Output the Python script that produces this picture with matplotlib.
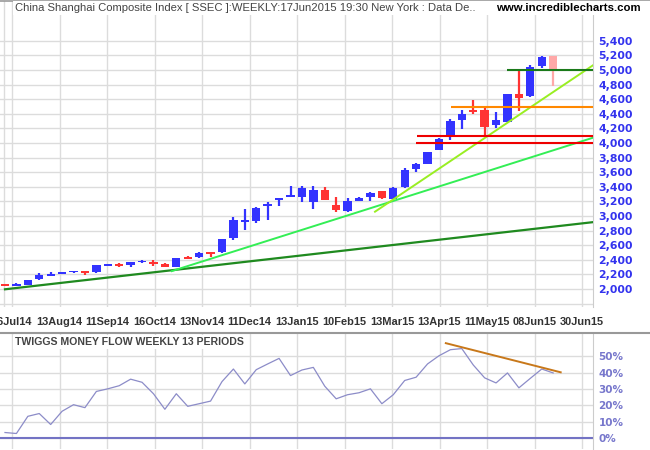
import matplotlib
matplotlib.use("Agg")
import matplotlib.pyplot as plt
from matplotlib.patches import Rectangle
from matplotlib.lines import Line2D

# ---------------- data ----------------
opens  = [2062, 2045, 2058, 2137, 2183, 2210, 2235, 2246, 2228, 2320,
          2335, 2335, 2370, 2370, 2342, 2306, 2434, 2443, 2502, 2502,
          2694, 2925, 2935, 3145, 3225, 3268, 3265, 3196, 3356, 3150,
          3068, 3210, 3265, 3342, 3228, 3402, 3644, 3712, 3904, 4087,
          4315, 4447, 4452, 4246, 4288, 4671, 4644, 5059, 5192]
highs  = [2070, 2088, 2125, 2219, 2233, 2237, 2251, 2251, 2329, 2342,
          2360, 2374, 2397, 2397, 2360, 2420, 2452, 2507, 2502, 2680,
          2991, 3096, 3128, 3196, 3245, 3411, 3411, 3411, 3393, 3256,
          3242, 3256, 3333, 3342, 3402, 3653, 3731, 3872, 4064, 4329,
          4452, 4589, 4497, 4429, 4671, 5009, 5068, 5192, 5192]
lows   = [2050, 2042, 2055, 2130, 2178, 2205, 2224, 2192, 2225, 2315,
          2297, 2297, 2360, 2320, 2302, 2297, 2418, 2429, 2443, 2490,
          2671, 2808, 2900, 2945, 3141, 3262, 3196, 3096, 3219, 3059,
          3059, 3205, 3205, 3233, 3228, 3388, 3607, 3712, 3904, 4041,
          4192, 4397, 4100, 4201, 4283, 4443, 4635, 5023, 4785]
closes = [2052, 2058, 2123, 2192, 2196, 2233, 2246, 2215, 2329, 2333,
          2322, 2365, 2384, 2338, 2306, 2420, 2422, 2489, 2495, 2680,
          2945, 2940, 3114, 3160, 3240, 3285, 3388, 3356, 3219, 3082,
          3205, 3242, 3315, 3251, 3379, 3630, 3708, 3872, 4050, 4306,
          4397, 4440, 4224, 4315, 4671, 4621, 5036, 5173, 4986]
money_flow = [3.4, 2.8, 13.3, 15.0, 8.3, 16.4, 20.4, 18.6, 28.5, 30.1,
              32.0, 36.0, 34.1, 27.1, 17.6, 27.1, 19.4, 21.0, 22.6, 34.5,
              42.2, 33.1, 41.8, 45.3, 48.7, 38.2, 41.6, 43.2, 31.7, 24.0,
              26.5, 27.7, 30.1, 21.0, 26.5, 35.2, 37.2, 45.3, 50.3, 54.0,
              54.7, 44.7, 36.8, 33.7, 39.8, 30.7, 36.5, 42.2, 39.8]
date_labels = ["16Jul14", "13Aug14", "11Sep14", "16Oct14", "13Nov14",
               "11Dec14", "13Jan15", "10Feb15", "13Mar15", "13Apr15",
               "11May15", "08Jun15", "30Jun15"]
price_ticks = list(range(2000, 5401, 200))
pct_ticks = [0, 10, 20, 30, 40, 50]

# trendlines / levels (week index, value)
trend_long_x, trend_long_y = [0, 51.5], [1996, 2916]
trend_mid_x, trend_mid_y = [14.6, 51.5], [2245, 4073]
trend_steep_x, trend_steep_y = [32.4, 51.5], [3059, 5066]
level_values = [5000, 4500, 4100, 4000]
level_starts = [44.0, 39.05, 36.1, 36.0]
level_colors = ["#1a7a1a", "#ff8800", "#ee0000", "#ee0000"]
mf_trend_x, mf_trend_y = [38.6, 48.66], [58.0, 40.2]

title_text = "China Shanghai Composite Index [ SSEC ]:WEEKLY:17Jun2015 19:30 New York : Data De.."
site_text = "www.incrediblecharts.com"
panel_text = "TWIGGS MONEY FLOW WEEKLY 13 PERIODS"

# ---------------- layout ----------------
W, H = 650, 450
fig = plt.figure(figsize=(W / 100, H / 100), dpi=100)
fig.patch.set_facecolor("white")


def rect(l, t, r, b):
    return [l / W, 1 - b / H, (r - l) / W, (b - t) / H]


PX_PER_WEEK = 11.42
X0 = 5.0


def px2x(p):
    return (p - X0) / PX_PER_WEEK


grid_pos = [px2x(12 + 47.5 * k) for k in range(len(date_labels))]
xlim = (px2x(0), px2x(593))

GRID = "#dcdcdc"

ax = fig.add_axes(rect(0, 1, 593, 307))
low = fig.add_axes(rect(0, 334, 593, 449))

for a in (ax, low):
    a.set_facecolor("white")
    for s in ("top", "left", "bottom"):
        a.spines[s].set_visible(False)
    a.spines["right"].set_color("#cccccc")
    a.spines["right"].set_linewidth(0.8)
    a.set_xlim(*xlim)
    a.set_xticks(grid_pos)
    a.yaxis.tick_right()
    a.tick_params(axis="both", length=0)
    a.set_axisbelow(True)
    a.grid(True, color=GRID, linewidth=1.0)

# ---- main panel ----
ax.set_ylim(2000 - 18 * 13.699, 2000 + 288 * 13.699)
ax.set_yticks(list(range(1800, 5401, 200)))
ax.set_yticklabels(["" if v < 2000 else f"{v:,}" for v in range(1800, 5401, 200)],
                   fontsize=7.8, fontweight="bold", color="#3333ee",
                   family="DejaVu Sans")
ax.tick_params(axis="y", pad=4)
ax.set_xticklabels(date_labels, fontsize=7.9, fontweight="bold", color="#333333",
                   family="Liberation Sans")
ax.tick_params(axis="x", pad=7)
ax.axvline(px2x(4), color=GRID, linewidth=1.0, zorder=0)

n = len(opens)
xs = list(range(n))
body_w = 0.73
min_h = 25
for i in xs:
    o, h, l, c = opens[i], highs[i], lows[i], closes[i]
    if i == n - 1:
        col = "#ffa8a8"
    elif c >= o:
        col = "#3333ff"
    else:
        col = "#ff3333"
    ax.vlines(i, l, h, color=col, linewidth=1.6, zorder=3)
    bottom = min(o, c)
    height = abs(c - o)
    if height < min_h:
        bottom = (o + c) / 2 - min_h / 2
        height = min_h
    ax.bar(i, height, bottom=bottom, width=body_w, color=col, linewidth=0, zorder=4)

ax.plot(trend_long_x, trend_long_y, color="#1f8a1f", linewidth=1.6, zorder=5)
ax.plot(trend_mid_x, trend_mid_y, color="#33ee55", linewidth=1.4, zorder=5)
ax.plot(trend_steep_x, trend_steep_y, color="#99ee22", linewidth=1.4, zorder=5)
for v, s, c in zip(level_values, level_starts, level_colors):
    ax.plot([s, xlim[1]], [v, v], color=c, linewidth=1.5, zorder=5, solid_capstyle="butt")

# ---- lower panel ----
low.set_ylim(-6.67, 63.6)
low.set_yticks(pct_ticks)
low.set_yticklabels([f"{v}%" for v in pct_ticks], fontsize=7.5, fontweight="bold",
                    color="#7777cc", family="DejaVu Sans")
low.tick_params(axis="y", pad=4)
low.set_xticklabels([""] * len(grid_pos))
low.axhline(0, color="#7373c4", linewidth=1.5, zorder=2)
low.plot(xs, money_flow, color="#8c8cc8", linewidth=0.9, zorder=3)
low.plot(mf_trend_x, mf_trend_y, color="#c8781a", linewidth=1.4, zorder=4)

# ---- frame lines ----
fig.add_artist(Line2D([0, 1], [1 - 0.5 / H] * 2, color="#999999", linewidth=1.2))
fig.add_artist(Line2D([0, 1], [1 - 333 / H] * 2, color="#999999", linewidth=1.5))

# ---- titles ----
fig.patches.append(Rectangle((13 / W, 1 - 15 / H), (W - 13) / W, 14 / H,
                             transform=fig.transFigure, facecolor="white",
                             edgecolor="none", zorder=2))
t1 = fig.text(15 / W, 1 - 8 / H, title_text, color="#444444", fontsize=8,
              va="center", ha="left", family="Liberation Sans", zorder=3)
t2 = fig.text(496 / W, 1 - 8 / H, site_text, color="black", fontsize=8,
              fontweight="bold", va="center", ha="left",
              family="Liberation Sans", zorder=3)
t3 = low.text(15 / 593, (449 - 342) / (449 - 334), panel_text, transform=low.transAxes,
              color="#444444", fontsize=7.5, fontweight="bold", va="center",
              ha="left", family="Liberation Sans", zorder=6,
              bbox=dict(facecolor="white", edgecolor="none", pad=1.5))

renderer = fig.canvas.get_renderer()
for t, target in ((t1, 463), (t2, 144), (t3, 228)):
    w = t.get_window_extent(renderer).width
    t.set_fontsize(t.get_fontsize() * target / w)

fig.savefig("out.png", dpi=100, facecolor="white")
